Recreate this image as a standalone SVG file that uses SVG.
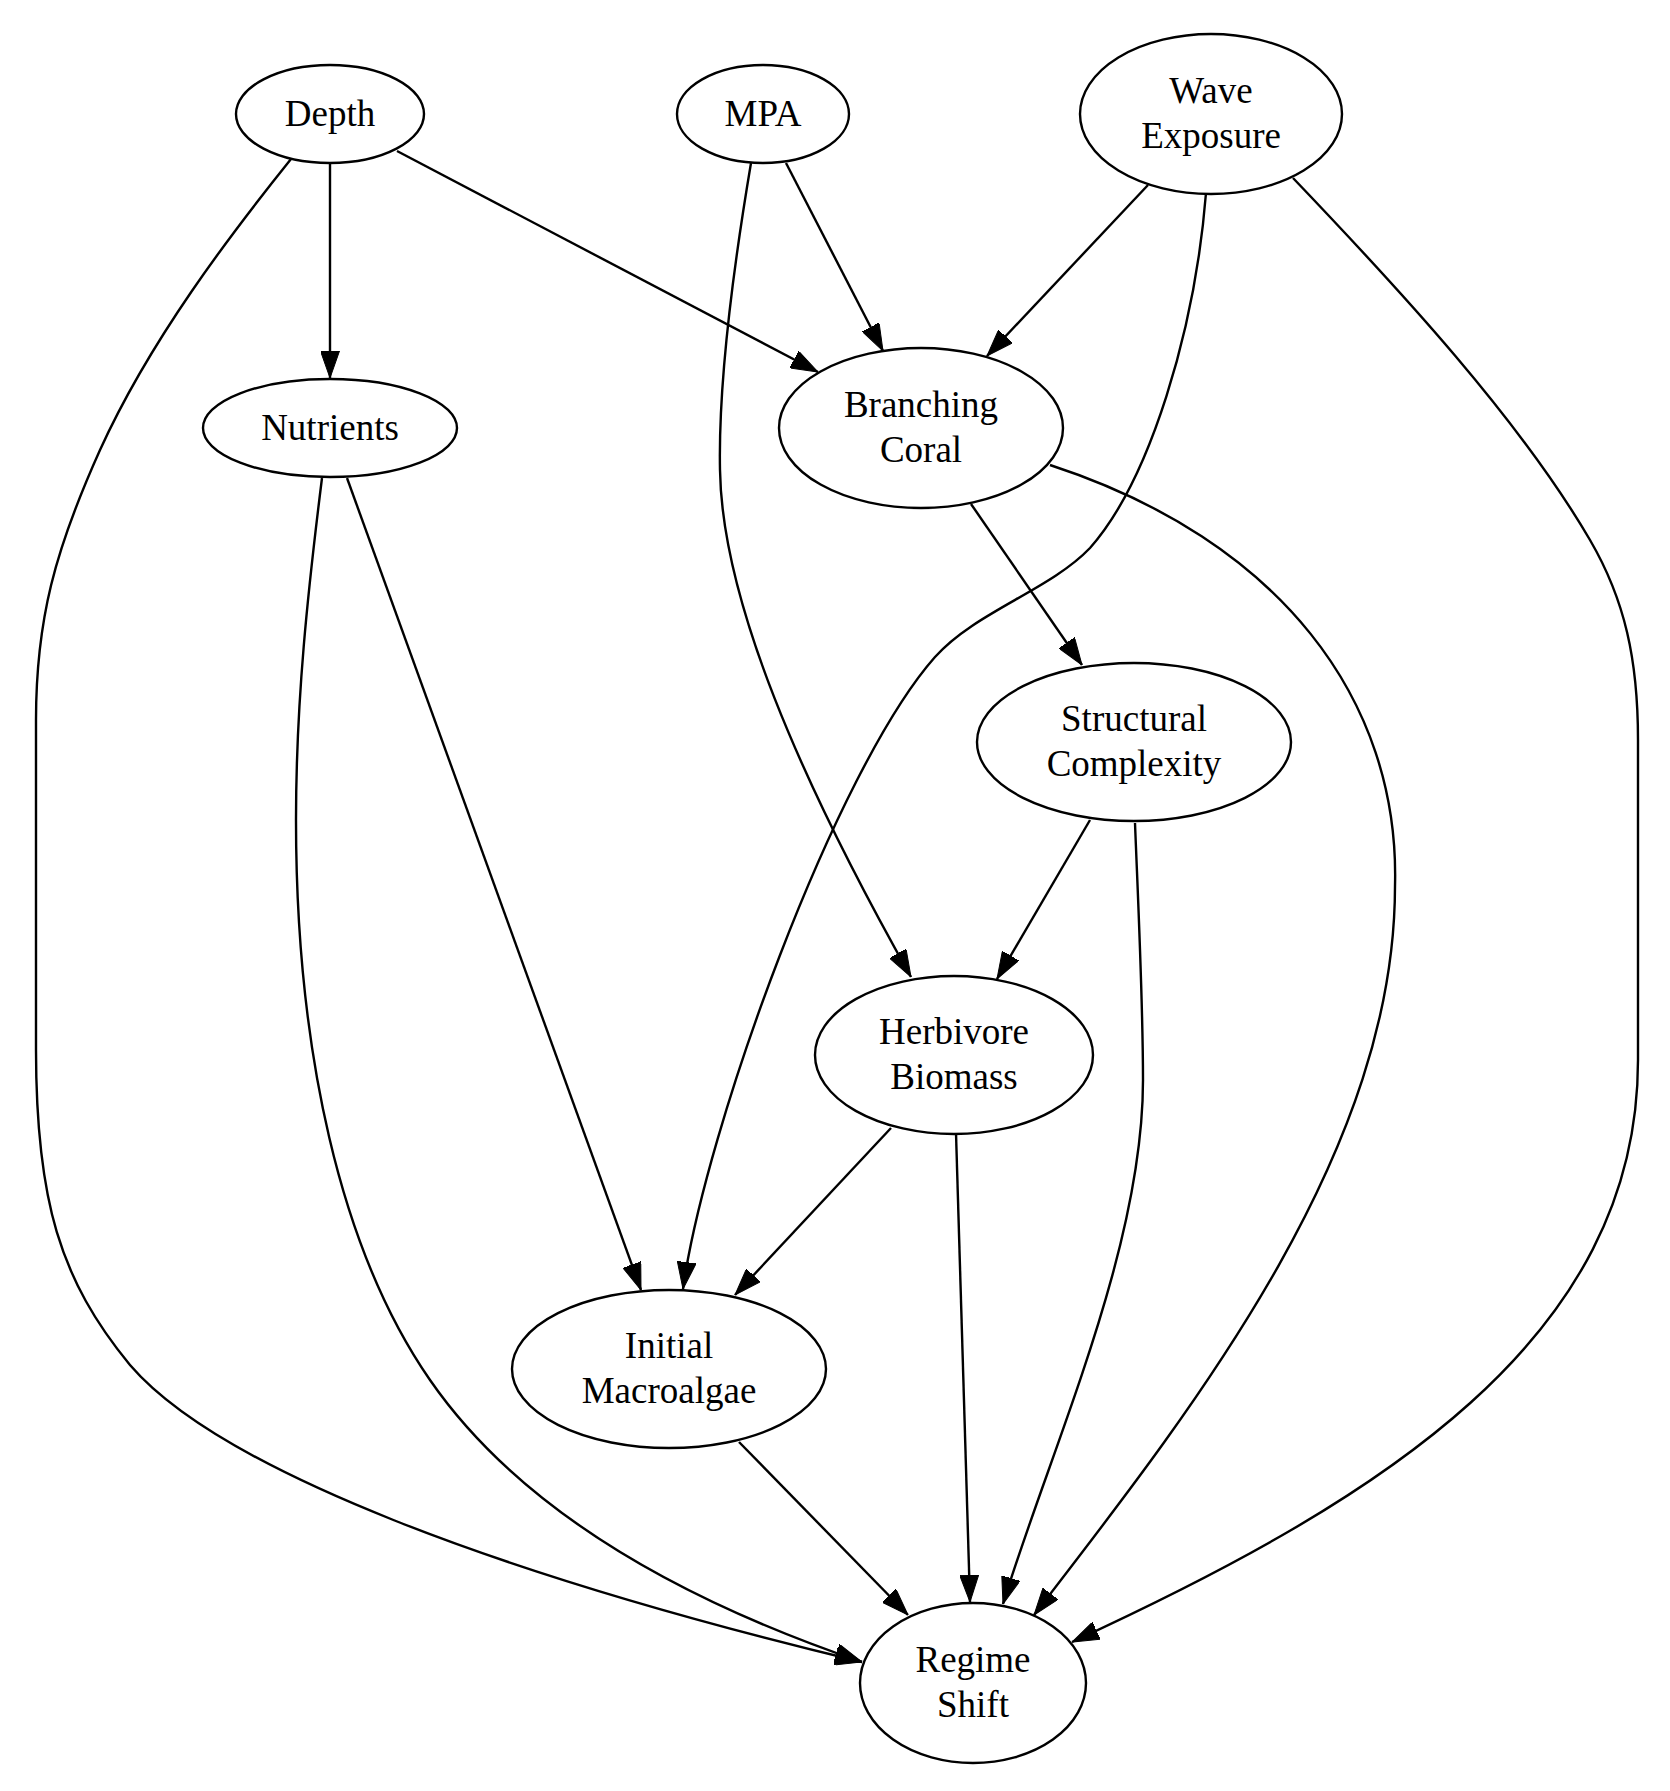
<svg xmlns="http://www.w3.org/2000/svg" width="1670" height="1791" viewBox="0 0 1670 1791">
<style>
.node ellipse{fill:none;stroke:#000;stroke-width:2.4}
.node text{font-family:"Liberation Serif","Times New Roman",serif;font-size:37px;text-anchor:middle;fill:#000}
.edges path{fill:none;stroke:#000;stroke-width:2.4;marker-end:url(#arr)}
</style>
<defs>
<marker id="arr" viewBox="0 0 27 19" refX="27" refY="9.5" markerWidth="27" markerHeight="19" markerUnits="userSpaceOnUse" orient="auto">
<path d="M0,0 L27,9.5 L0,19 Z" fill="#000" stroke="#000" stroke-width="1"/>
</marker>
</defs>
<rect width="1670" height="1791" fill="#fff"/>
<g class="edges" id="edges">
<path id="e_depth_nut" d="M330,163 L330,378"/>
<path id="e_depth_bc" d="M397,151 L818,372"/>
<path id="e_depth_rs" d="M291,159 C230,235 150,340 100,450 C55,550 36,620 36,720 L36,1050 C36,1200 60,1280 130,1365 C220,1470 500,1575 862,1662"/>
<path id="e_mpa_bc" d="M786,163 L883,351"/>
<path id="e_mpa_hb" d="M751,163 C738,240 718,370 720,470 C722,600 800,780 911,977"/>
<path id="e_we_bc" d="M1148,185 L987,356"/>
<path id="e_we_im" d="M1206,193 C1195,330 1150,480 1090,548 C1050,590 975,612 935,657 C835,770 705,1130 683,1289"/>
<path id="e_we_rs" d="M1293,178 C1400,290 1520,420 1590,540 C1625,600 1638,660 1638,740 L1638,1060 C1638,1340 1380,1500 1072,1642"/>
<path id="e_nut_rs" d="M322,478 C308,590 296,700 296,820 C296,1050 340,1250 430,1380 C520,1510 680,1600 862,1662"/>
<path id="e_nut_im" d="M347,478 L641,1290"/>
<path id="e_bc_sc" d="M971,504 L1082,665"/>
<path id="e_bc_rs" d="M1050,465 C1280,540 1400,700 1395,886 C1395,1150 1200,1400 1034,1615"/>
<path id="e_sc_hb" d="M1090,820 L997,979"/>
<path id="e_sc_rs" d="M1135,823 C1138,900 1143,1000 1143,1080 C1143,1250 1050,1450 1003,1604"/>
<path id="e_hb_im" d="M891,1128 L735,1295"/>
<path id="e_hb_rs" d="M956,1133 L970,1602"/>
<path id="e_im_rs" d="M739,1442 L908,1615"/>
</g>
<g class="node" id="n_depth"><ellipse cx="330" cy="114" rx="94" ry="49"/><text x="330" y="126">Depth</text></g>
<g class="node" id="n_mpa"><ellipse cx="763" cy="114" rx="86" ry="49"/><text x="763" y="126">MPA</text></g>
<g class="node" id="n_wave"><ellipse cx="1211" cy="114" rx="131" ry="80"/><text x="1211" y="103">Wave</text><text x="1211" y="148">Exposure</text></g>
<g class="node" id="n_nutrients"><ellipse cx="330" cy="428" rx="127" ry="49"/><text x="330" y="440">Nutrients</text></g>
<g class="node" id="n_branching"><ellipse cx="921" cy="428" rx="142" ry="80"/><text x="921" y="417">Branching</text><text x="921" y="462">Coral</text></g>
<g class="node" id="n_structural"><ellipse cx="1134" cy="742" rx="157" ry="79"/><text x="1134" y="731">Structural</text><text x="1134" y="776">Complexity</text></g>
<g class="node" id="n_herbivore"><ellipse cx="954" cy="1055" rx="139" ry="79"/><text x="954" y="1044">Herbivore</text><text x="954" y="1089">Biomass</text></g>
<g class="node" id="n_macroalgae"><ellipse cx="669" cy="1369" rx="157" ry="79"/><text x="669" y="1358">Initial</text><text x="669" y="1403">Macroalgae</text></g>
<g class="node" id="n_regime"><ellipse cx="973" cy="1683" rx="113" ry="80"/><text x="973" y="1672">Regime</text><text x="973" y="1717">Shift</text></g>
</svg>
